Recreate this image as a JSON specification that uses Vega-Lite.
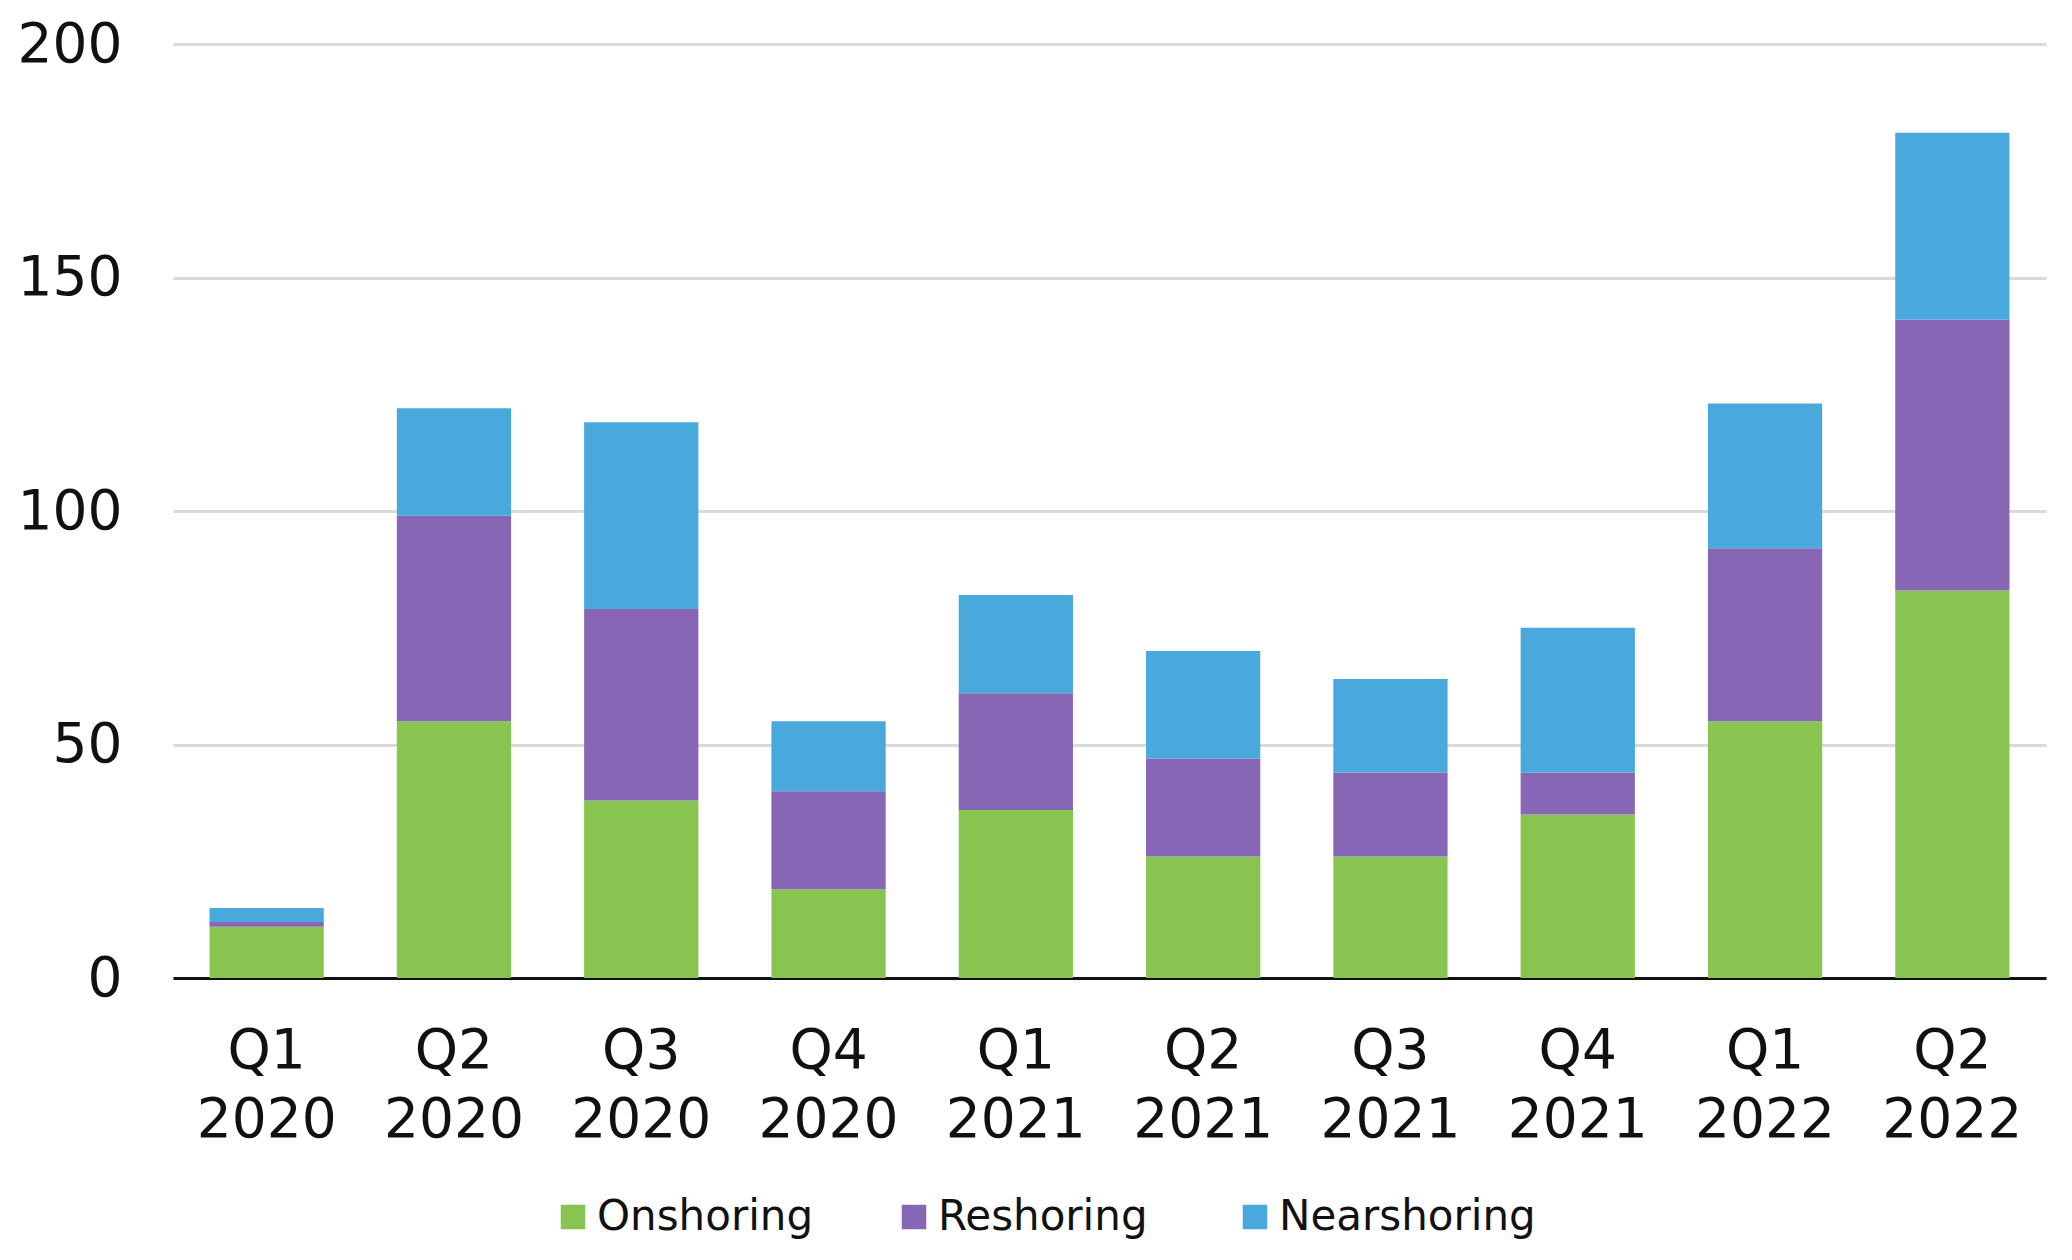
{
  "$schema": "https://vega.github.io/schema/vega-lite/v6.json",
  "width": 1873,
  "height": 934,
  "autosize": {"type": "none"},
  "padding": {"left": 173, "top": 44, "right": 26, "bottom": 282},
  "background": "white",
  "data": {
    "values": [
      {"quarter": "Q1 2020", "type": "Onshoring", "rank": 1, "count": 11},
      {"quarter": "Q1 2020", "type": "Reshoring", "rank": 2, "count": 1},
      {"quarter": "Q1 2020", "type": "Nearshoring", "rank": 3, "count": 3},
      {"quarter": "Q2 2020", "type": "Onshoring", "rank": 1, "count": 55},
      {"quarter": "Q2 2020", "type": "Reshoring", "rank": 2, "count": 44},
      {"quarter": "Q2 2020", "type": "Nearshoring", "rank": 3, "count": 23},
      {"quarter": "Q3 2020", "type": "Onshoring", "rank": 1, "count": 38},
      {"quarter": "Q3 2020", "type": "Reshoring", "rank": 2, "count": 41},
      {"quarter": "Q3 2020", "type": "Nearshoring", "rank": 3, "count": 40},
      {"quarter": "Q4 2020", "type": "Onshoring", "rank": 1, "count": 19},
      {"quarter": "Q4 2020", "type": "Reshoring", "rank": 2, "count": 21},
      {"quarter": "Q4 2020", "type": "Nearshoring", "rank": 3, "count": 15},
      {"quarter": "Q1 2021", "type": "Onshoring", "rank": 1, "count": 36},
      {"quarter": "Q1 2021", "type": "Reshoring", "rank": 2, "count": 25},
      {"quarter": "Q1 2021", "type": "Nearshoring", "rank": 3, "count": 21},
      {"quarter": "Q2 2021", "type": "Onshoring", "rank": 1, "count": 26},
      {"quarter": "Q2 2021", "type": "Reshoring", "rank": 2, "count": 21},
      {"quarter": "Q2 2021", "type": "Nearshoring", "rank": 3, "count": 23},
      {"quarter": "Q3 2021", "type": "Onshoring", "rank": 1, "count": 26},
      {"quarter": "Q3 2021", "type": "Reshoring", "rank": 2, "count": 18},
      {"quarter": "Q3 2021", "type": "Nearshoring", "rank": 3, "count": 20},
      {"quarter": "Q4 2021", "type": "Onshoring", "rank": 1, "count": 35},
      {"quarter": "Q4 2021", "type": "Reshoring", "rank": 2, "count": 9},
      {"quarter": "Q4 2021", "type": "Nearshoring", "rank": 3, "count": 31},
      {"quarter": "Q1 2022", "type": "Onshoring", "rank": 1, "count": 55},
      {"quarter": "Q1 2022", "type": "Reshoring", "rank": 2, "count": 37},
      {"quarter": "Q1 2022", "type": "Nearshoring", "rank": 3, "count": 31},
      {"quarter": "Q2 2022", "type": "Onshoring", "rank": 1, "count": 83},
      {"quarter": "Q2 2022", "type": "Reshoring", "rank": 2, "count": 58},
      {"quarter": "Q2 2022", "type": "Nearshoring", "rank": 3, "count": 40}
    ]
  },
  "mark": {"type": "bar"},
  "encoding": {
    "x": {
      "field": "quarter",
      "type": "nominal",
      "sort": null,
      "scale": {"paddingInner": 0.39, "paddingOuter": 0.195},
      "axis": {
        "title": null,
        "labelAngle": 0,
        "labelExpr": "split(datum.value, ' ')",
        "labelFont": "DejaVu Sans",
        "labelFontSize": 55,
        "labelLineHeight": 69,
        "labelColor": "#111111",
        "labelPadding": 46,
        "ticks": false,
        "domain": true,
        "domainColor": "#111111",
        "domainWidth": 3,
        "grid": false
      }
    },
    "y": {
      "field": "count",
      "type": "quantitative",
      "stack": "zero",
      "scale": {"domain": [0, 200], "nice": false},
      "axis": {
        "title": null,
        "values": [0, 50, 100, 150, 200],
        "labelFont": "DejaVu Sans",
        "labelFontSize": 55,
        "labelColor": "#111111",
        "labelPadding": 51,
        "ticks": false,
        "domain": false,
        "grid": true,
        "gridColor": "#dadada",
        "gridWidth": 3
      }
    },
    "color": {
      "field": "type",
      "type": "nominal",
      "sort": ["Onshoring", "Reshoring", "Nearshoring"],
      "scale": {
        "domain": ["Onshoring", "Reshoring", "Nearshoring"],
        "range": ["#88C550", "#8866B6", "#4AA9DC"]
      },
      "legend": {
        "title": null,
        "orient": "none",
        "legendX": 379,
        "legendY": 1152,
        "direction": "horizontal",
        "columns": 3,
        "gridAlign": "all",
        "columnPadding": 39,
        "padding": 0,
        "symbolType": "square",
        "symbolSize": 600,
        "symbolStrokeWidth": 0,
        "labelFont": "DejaVu Sans",
        "labelFontSize": 42,
        "labelLimit": 0,
        "labelColor": "#111111",
        "labelOffset": 3
      }
    },
    "order": {"field": "rank", "type": "quantitative", "sort": "ascending"}
  },
  "config": {
    "view": {"stroke": null}
  }
}
